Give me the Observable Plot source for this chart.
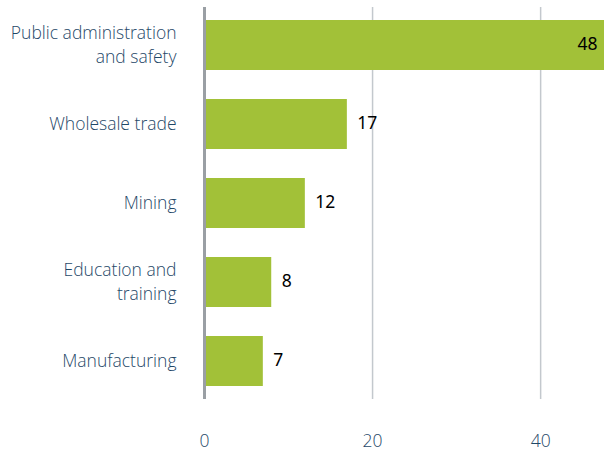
<!DOCTYPE html>
<html>
<head>
<meta charset="utf-8">
<script src="https://cdn.jsdelivr.net/npm/d3@7"></script>
<script src="https://cdn.jsdelivr.net/npm/@observablehq/plot@0.6"></script>
<style>
  html, body { margin: 0; padding: 0; background: #fff; overflow: hidden; }
</style>
</head>
<body>
<div id="chart"></div>
<script>
const categories = ["Public administration\nand safety", "Wholesale trade", "Mining", "Education and\ntraining", "Manufacturing"];
const values = [48, 17, 12, 8, 7];
const xTicks = [0, 20, 40];
const xMax = 47.6;

const data = categories.map((c, i) => ({cat: c, value: values[i]}));
const labelColor = "#1f4868";

const chart = Plot.plot({
  width: 604,
  height: 452,
  marginLeft: 204,
  marginRight: 0,
  marginTop: 7,
  marginBottom: 53,
  style: {fontFamily: "'Open Sans', 'Noto Sans', sans-serif", fontSize: "17px", background: "#fff"},
  x: {domain: [0, xMax], axis: null},
  y: {domain: categories, paddingInner: 0.37, paddingOuter: 0.165, axis: null},
  marks: [
    Plot.gridX(xTicks, {stroke: "#c3c8cd", strokeOpacity: 1, strokeWidth: 1.5}),
    Plot.axisX(xTicks, {label: null, tickSize: 0, tickPadding: 35, fill: labelColor, fontSize: 17.5, fontWeight: 300}),
    Plot.barX(data, {x: "value", y: "cat", fill: "#a2c138", clip: true}),
    Plot.ruleX([0], {stroke: "#9a9fa4", strokeWidth: 3}),
    Plot.text(data, {y: "cat", text: "cat", frameAnchor: "left", dx: -28, dy: -2, textAnchor: "end", lineHeight: 1.38, fill: labelColor, fontSize: 17.5, fontWeight: 300}),
    Plot.text(data, {filter: d => d.value < xMax, x: "value", y: "cat", text: d => String(d.value), dx: 10, dy: -1, textAnchor: "start", fill: "#000", fontSize: 17.5, fontFamily: "'Noto Sans', sans-serif"}),
    Plot.text(data, {filter: d => d.value >= xMax, y: "cat", text: d => String(d.value), frameAnchor: "right", dx: -7, dy: -1, textAnchor: "end", fill: "#000", fontSize: 17.5, fontFamily: "'Noto Sans', sans-serif"})
  ]
});
document.getElementById("chart").appendChild(chart);
</script>
</body>
</html>
